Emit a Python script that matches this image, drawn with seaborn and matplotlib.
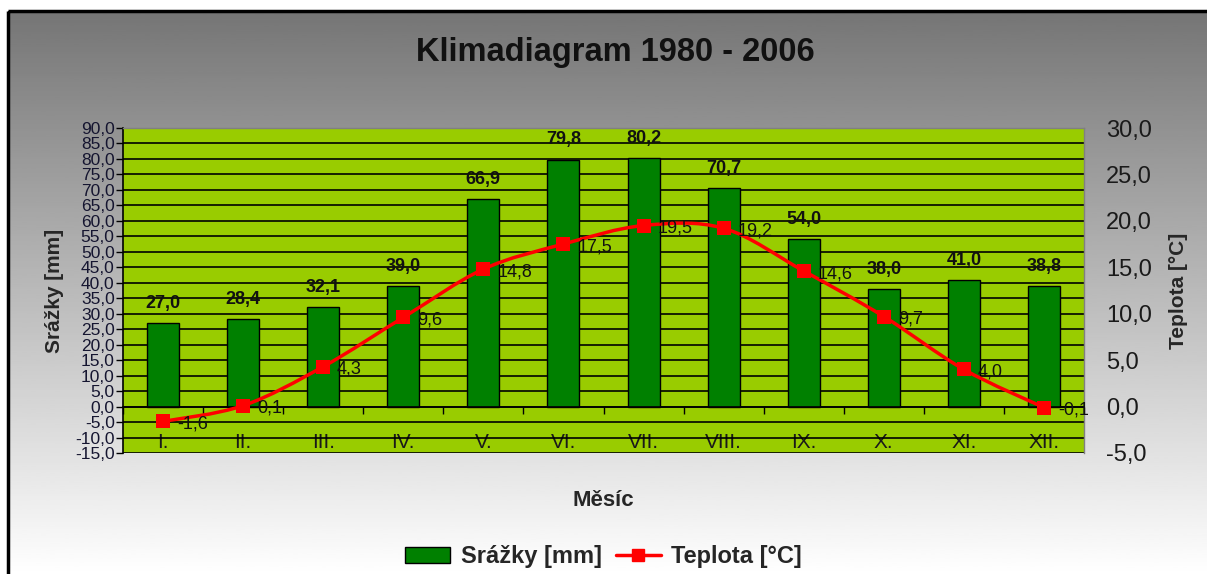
import numpy as np
import pandas as pd
import matplotlib
matplotlib.use("Agg")
import matplotlib.pyplot as plt
from matplotlib.path import Path
from matplotlib.patches import PathPatch, Rectangle
from matplotlib.lines import Line2D
import seaborn as sns

# --- data ---
months = ["I.", "II.", "III.", "IV.", "V.", "VI.", "VII.", "VIII.", "IX.", "X.", "XI.", "XII."]
precip = [27.0, 28.4, 32.1, 39.0, 66.9, 79.8, 80.2, 70.7, 54.0, 38.0, 41.0, 38.8]
temp = [-1.6, 0.1, 4.3, 9.6, 14.8, 17.5, 19.5, 19.2, 14.6, 9.7, 4.0, -0.1]
precip_ticks = np.arange(-15, 91, 5)
temp_ticks = np.arange(-5, 31, 5)

GREEN_BG = "#99CC00"
BAR = "#008000"
RED = "#FF0000"


def cz(v):
    return f"{v:.1f}".replace(".", ",")


sns.set_style("white")
plt.rcParams["font.family"] = ["Liberation Sans", "DejaVu Sans"]

W, H = 1207, 574
fig = plt.figure(figsize=(W / 100, H / 100), dpi=100)

# gradient background with black frame
bg = fig.add_axes([0, 0, 1, 1], zorder=-5)
bg.set_xlim(0, W)
bg.set_ylim(H, 0)
bg.axis("off")
grad = np.linspace(0.46, 1.0, 256).reshape(-1, 1)
bg.imshow(grad, cmap="gray", vmin=0, vmax=1, aspect="auto",
          extent=(8, W + 20, H, 11))
bg.add_patch(Rectangle((8, 11), W + 40, H + 40, fill=False,
                       edgecolor="black", linewidth=2.5))

# main axes
ax = fig.add_axes([123 / W, 1 - 453 / H, (1084 - 123) / W, (453 - 128) / H])
ax.set_facecolor(GREEN_BG)

df = pd.DataFrame({"month": months, "precip": precip})
sns.barplot(data=df, x="month", y="precip", order=months, color=BAR,
            saturation=1, width=0.4, edgecolor="black", linewidth=1, ax=ax)
ax.set_axisbelow(True)
ax.set_ylim(-15, 90)
ax.set_xlim(-0.5, len(months) - 0.5)
ax.set_yticks(precip_ticks)
ax.set_yticklabels([cz(v) for v in precip_ticks], fontsize=12.5, color="#151530")
ax.yaxis.grid(True, color="black", linewidth=1.2)
ax.tick_params(axis="y", direction="out", length=5, width=1, color="black",
               left=True, pad=1)

ax.bar_label(ax.containers[0], labels=[cz(v) for v in precip], padding=8,
             fontsize=13, fontweight="bold", color="#111111")

# category axis crossing at 0
ax.spines["bottom"].set_position(("data", 0))
ax.spines["bottom"].set_color("black")
ax.spines["bottom"].set_linewidth(1.2)
ax.spines["left"].set_color("black")
ax.spines["left"].set_linewidth(1.2)
for s in ("top", "right"):
    ax.spines[s].set_color("#808080")
    ax.spines[s].set_linewidth(1)
ax.set_xticks(np.arange(len(months)))
ax.set_xticklabels(months, fontsize=15, color="#1a1a1a")
ax.set_xticks(np.arange(-0.5, len(months), 0.5), minor=True)
ax.tick_params(axis="x", which="major", length=0, pad=19)
ax.tick_params(axis="x", which="minor", direction="out", length=5,
               width=1, color="black", bottom=True)
ax.set_xlabel("Měsíc", fontsize=16, fontweight="bold")
ax.xaxis.set_label_coords(0.5, -0.115)
ax.set_ylabel("Srážky [mm]", fontsize=15, fontweight="bold", labelpad=8)

# temperature on secondary axis
ax2 = ax.twinx()
ax2.set_ylim(-5, 30)
ax2.set_yticks(temp_ticks)
ax2.set_yticklabels([cz(v) for v in temp_ticks], fontsize=17, color="#1a1a1a")
ax2.tick_params(axis="y", length=0, pad=16)
for s in ax2.spines.values():
    s.set_visible(False)
ax2.set_ylabel("Teplota [°C]", fontsize=15, fontweight="bold", labelpad=12)

xs = np.arange(len(temp), dtype=float)
ys = np.array(temp, dtype=float)

# smoothed curve through the points (Catmull-Rom as cubic Bezier)
verts = [(xs[0], ys[0])]
codes = [Path.MOVETO]
n = len(xs)
for i in range(n - 1):
    p0 = np.array([xs[max(i - 1, 0)], ys[max(i - 1, 0)]])
    p1 = np.array([xs[i], ys[i]])
    p2 = np.array([xs[i + 1], ys[i + 1]])
    p3 = np.array([xs[min(i + 2, n - 1)], ys[min(i + 2, n - 1)]])
    c1 = p1 + (p2 - p0) / 6
    c2 = p2 - (p3 - p1) / 6
    verts += [tuple(c1), tuple(c2), tuple(p2)]
    codes += [Path.CURVE4] * 3
ax2.add_patch(PathPatch(Path(verts, codes), facecolor="none", edgecolor=RED,
                        linewidth=2.5, zorder=3))
sns.scatterplot(x=xs, y=ys, marker="s", s=100, color=RED, edgecolor=RED,
                linewidth=0, ax=ax2, zorder=4)
for x, t in zip(xs, temp):
    ax2.annotate(cz(t), (x, t), xytext=(10, -2), textcoords="offset points",
                 ha="left", va="center", fontsize=13, color="#111111")

fig.text(0.51, 1 - 52 / H, "Klimadiagram 1980 - 2006", ha="center",
         va="center", fontsize=23.5, fontweight="bold", color="#111111")

handles = [
    Rectangle((0, 0), 1, 1, facecolor=BAR, edgecolor="black", linewidth=1),
    Line2D([0], [0], color=RED, linewidth=2.5, marker="s", markersize=9),
]
fig.legend(handles, ["Srážky [mm]", "Teplota [°C]"], loc="center",
           bbox_to_anchor=(0.5, 1 - 557 / H), ncol=2, frameon=False,
           prop={"size": 17, "weight": "bold"}, handlelength=1.9,
           handleheight=0.65, columnspacing=0.6, handletextpad=0.45)

fig.savefig("out.png", dpi=100)
